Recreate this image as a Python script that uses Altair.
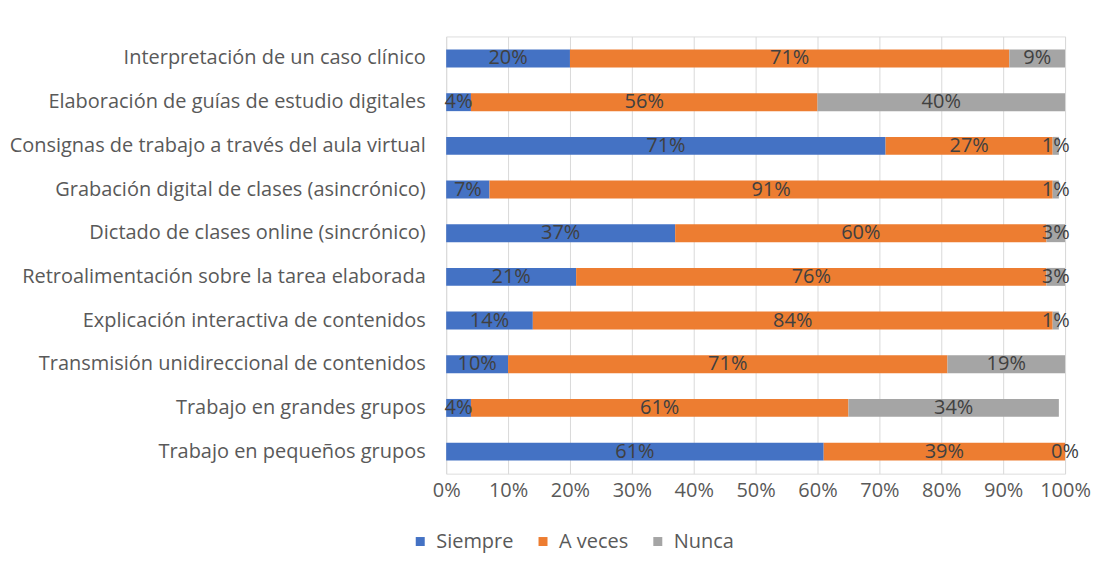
import altair as alt
import pandas as pd

categories = [
    "Interpretación de un caso clínico",
    "Elaboración de guías de estudio digitales",
    "Consignas de trabajo a través del aula virtual",
    "Grabación digital de clases (asincrónico)",
    "Dictado de clases online (sincrónico)",
    "Retroalimentación sobre la tarea elaborada",
    "Explicación interactiva de contenidos",
    "Transmisión unidireccional de contenidos",
    "Trabajo en grandes grupos",
    "Trabajo en pequeños grupos",
]
series = ["Siempre", "A veces", "Nunca"]
siempre = [20, 4, 71, 7, 37, 21, 14, 10, 4, 61]
a_veces = [71, 56, 27, 91, 60, 76, 84, 71, 61, 39]
nunca = [9, 40, 1, 1, 3, 3, 1, 19, 34, 0]
colors = ["#4472C4", "#ED7D31", "#A5A5A5"]
x_ticks = list(range(0, 101, 10))

rows = []
for i, c in enumerate(categories):
    for j, (s, vals) in enumerate(zip(series, [siempre, a_veces, nunca])):
        rows.append({"cat": c, "serie": s, "ord": j, "val": vals[i]})
df = pd.DataFrame(rows)

font = "Open Sans"
fs = 20

base = alt.Chart(df).transform_stack(
    stack="val", groupby=["cat"], as_=["x0", "x1"], sort=[alt.SortField("ord")]
).transform_calculate(
    xm="(datum.x0 + datum.x1) / 2", lab="datum.val + '%'"
)

ysc = alt.Y("cat:N", sort=categories, title=None,
            scale=alt.Scale(paddingInner=0.59, paddingOuter=0.3),
            axis=alt.Axis(labelFontSize=fs, labelColor="#595959", labelFont=font,
                          ticks=False, domain=False,
                          labelPadding=21, labelLimit=600))

bars = base.mark_bar().encode(
    x=alt.X("x0:Q", scale=alt.Scale(domain=[0, 100]), title=None,
            axis=alt.Axis(values=x_ticks, labelExpr="datum.value + '%'",
                          labelFontSize=fs, labelColor="#595959", labelFont=font,
                          labelFlush=False, labelOverlap=False,
                          grid=True, gridColor="#D9D9D9", ticks=False, domain=False,
                          labelPadding=7)),
    x2="x1:Q",
    y=ysc,
    color=alt.Color("serie:N", sort=series,
                    scale=alt.Scale(domain=series, range=colors),
                    legend=alt.Legend(title=None, orient="none", direction="horizontal",
                                      legendX=-36, legendY=496,
                                      symbolType="square", symbolSize=81,
                                      labelFontSize=fs, labelColor="#595959",
                                      labelFont=font, columnPadding=19, labelOffset=6,
                                      symbolStrokeWidth=0)),
)

texts = base.mark_text(fontSize=fs, color="#404040", font=font).encode(
    x="xm:Q",
    y=alt.Y("cat:N", sort=categories),
    text="lab:N",
)

chart = (bars + texts).properties(
    width=620, height=438,
    padding={"top": 28, "left": 0, "right": 0, "bottom": 3},
).configure_view(stroke=None).configure(background="white")

chart.save("out.html", embed_options={"renderer": "svg", "actions": False})
